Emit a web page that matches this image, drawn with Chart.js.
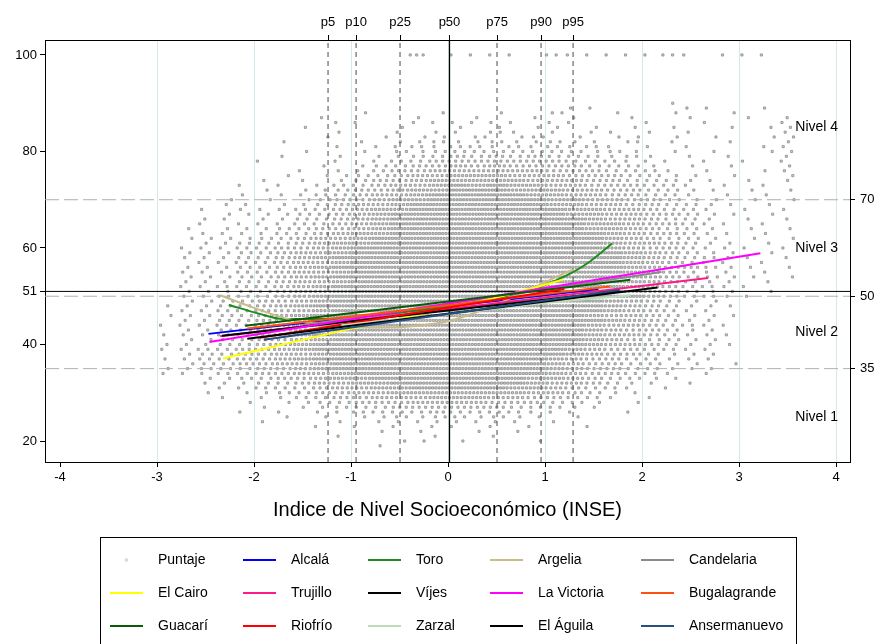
<!DOCTYPE html>
<html><head><meta charset="utf-8">
<script src="https://cdn.jsdelivr.net/npm/chart.js@4.4.1/dist/chart.umd.min.js"></script>
<style>html,body{margin:0;padding:0;background:#fff}canvas{display:block}</style>
</head><body>
<canvas id="c" width="880" height="644"></canvas>
<script>
// ---------- axes / reference values ----------
const xTicks = [-4, -3, -2, -1, 0, 1, 2, 3, 4];
const xRange = [-4.155, 4.144];
const yRange = [15.65, 103.1];
const yLeftTicks = [20, 40, 51, 60, 80, 100];
const yRightTicks = [35, 50, 70];
const pctLabels = ['p5', 'p10', 'p25', 'p50', 'p75', 'p90', 'p95'];
const pctValues = [-1.237, -0.948, -0.495, 0.015, 0.505, 0.959, 1.289];
const meanScore = 51;
const meanInse = 0.015;
const levelCuts = [70, 50, 35];
const levelNames = ['Nivel 4', 'Nivel 3', 'Nivel 2', 'Nivel 1'];
const levelLabelY = [85, 60, 42.5, 25];
const levelLabelX = 3.58;
const xTitle = 'Indice de Nivel Socioeconómico (INSE)';

// ---------- scatter "Puntaje": dots per 0.2-wide INSE bin (from -3.0), one row per score ----------
const binStart = -3.0, binWidth = 0.2;
const scoreRows = [100,90,89,88,87,86,85,84,83,82,81,80,79,78,77,76,75,74,73,72,71,70,69,68,67,66,65,64,63,62,61,60,
  59,58,57,56,55,54,53,52,51,50,49,48,47,46,45,44,43,42,41,40,39,38,37,36,35,34,33,32,31,30,29,28,27,26,25,24,23,22,21,20,19];
const densityRows = [
  "00000 00000 00030 11110 21111 12101 11000",
  "00000 00000 00000 00000 00000 01000 00000",
  "00000 00000 00000 00000 01100 00110 01000",
  "00000 00000 10001 00100 20010 01001 00000",
  "00000 00010 00010 01001 01001 00100 10100",
  "00000 00001 10011 11110 11000 10010 00100",
  "00000 00100 00100 10101 10101 01001 01100",
  "00000 00001 00101 10210 10110 10100 00100",
  "00000 00010 01011 02012 01011 01010 01100",
  "00000 01000 10112 11211 21102 01001 00100",
  "00000 00001 01121 22121 21210 10100 01100",
  "00000 00100 10212 22222 22121 01010 01100",
  "00000 01001 01122 32323 22212 10101 00100",
  "00000 10001 01223 33333 32221 11010 10100",
  "00000 00010 12233 43433 33222 10101 00100",
  "00000 00101 12334 44444 33322 21010 01100",
  "00000 01011 22344 55544 43332 21101 00100",
  "00000 10101 23345 55554 44332 22110 10100",
  "00001 01012 23445 65655 44333 22101 01000",
  "00000 10112 33455 66655 54433 22110 10100",
  "00001 01122 34456 66665 54433 22101 01000",
  "00010 10123 34556 66666 55443 32110 10100",
  "00011 01123 44566 66666 55443 32211 01000",
  "00101 11223 45566 66666 65544 32210 10100",
  "00011 11223 45666 66666 65544 33211 01000",
  "00110 11223 45666 66666 66544 32210 10100",
  "00101 11223 45666 66666 66554 33211 01000",
  "01011 12233 45666 66666 66554 32210 10100",
  "00111 12234 55666 66666 66654 33211 01000",
  "01111 22344 56666 66666 66654 32210 10100",
  "00112 22345 56666 66666 66654 43211 01000",
  "01112 23345 66666 66666 66654 33211 10100",
  "01112 23445 66666 66666 66665 43211 01000",
  "01112 23456 66666 66666 66665 43221 10100",
  "00112 23445 66666 66666 66665 43211 01000",
  "01112 23456 66666 66666 66665 43321 10100",
  "01112 23445 66666 66666 66665 43211 01000",
  "01112 23456 66666 66666 66665 43221 10100",
  "01112 23445 66666 66666 66665 43211 01000",
  "01122 23456 66666 66666 66665 43221 10000",
  "01112 23445 66666 66666 66665 43211 01000",
  "01122 23456 66666 66666 66666 43221 10000",
  "01122 33456 66666 66666 66654 32110 00000",
  "11122 34566 66666 66666 66654 32111 00000",
  "01122 33456 66666 66666 66654 32110 00000",
  "11122 34566 66666 66666 66544 32111 00000",
  "01122 33456 66666 66666 66654 32110 00000",
  "11122 34566 66666 66666 66544 32211 00000",
  "01122 33456 66666 66666 66543 32110 00000",
  "11122 34566 66666 66666 66544 32111 00000",
  "01122 33456 66666 66666 66543 22110 00000",
  "11122 34566 66666 66666 66544 32111 00000",
  "11223 34566 66666 66666 65433 22110 00000",
  "01223 34456 66666 66666 65433 21110 00000",
  "11223 34566 66666 66666 54332 21110 00000",
  "01223 34456 66666 66666 54332 21101 00000",
  "11222 33456 66666 66666 54332 21110 00000",
  "11122 33445 66666 66666 54332 21010 00000",
  "00112 23345 56666 66665 54322 11000 00000",
  "00111 22344 55666 66665 44321 10100 00000",
  "00011 22234 45566 66655 43221 01000 00000",
  "00101 12233 44555 55554 43211 00000 00000",
  "00010 11223 34445 55443 32210 10000 00000",
  "00001 01122 33344 44333 22101 00000 00000",
  "00000 10112 22333 33322 21100 00000 00000",
  "00001 01011 22223 22221 11001 00000 00000",
  "00000 01010 11212 21211 01000 00000 00000",
  "00000 10001 01111 11110 10000 00000 00000",
  "00000 00010 10101 10101 00100 00000 00000",
  "00000 00000 01010 01010 00000 00000 00000",
  "00000 00001 00001 00100 00000 00000 00000",
  "00000 00000 00110 10001 00000 00000 00000",
  "00000 00000 01000 00000 00000 00000 00000"
];

// ---------- fitted curves per municipality: [INSE, score] ----------
const alcala       = [[-2.47, 42.2], [1.55, 51.5]];
const toro         = [[-2.26, 48.2], [-1.95, 46.4], [-1.7, 45.3], [-1.3, 45.3], [-0.5, 46.6], [0, 47.9], [0.5, 49.6], [0.95, 52.0], [1.25, 54.6], [1.45, 57.0], [1.69, 60.9]];
const argelia      = [[-2.35, 50.2], [-2.0, 47.6], [-1.63, 45.2], [-1.2, 44.0], [-0.7, 43.5], [-0.3, 43.9], [0.0, 44.8], [0.36, 47.2], [0.8, 51.0], [1.18, 54.6], [1.3, 55.6]];
const candelaria   = [[-1.5, 44.0], [2.2, 55.0]];
const elCairo      = [[-2.32, 37.1], [-0.9, 43.7], [0.2, 48.3], [0.8, 51.3], [1.19, 53.5]];
const trujillo     = [[-2.35, 41.7], [2.68, 53.8]];
const vijes        = [[-2.33, 41.8], [1.75, 51.0]];
const laVictoria   = [[-2.46, 40.5], [3.22, 58.9]];
const bugalagrande = [[-2.07, 43.3], [1.67, 52.0]];
const guacari      = [[-2.09, 43.9], [1.88, 53.4]];
const riofrio      = [[-1.94, 41.4], [1.2, 51.5]];
const zarzal       = [[-1.1, 44.0], [0, 46.3], [1.0, 48.6], [1.88, 50.2]];
const elAguila     = [[-2.07, 41.2], [2.16, 51.8]];
const ansermanuevo = [[-1.9, 41.0], [1.77, 51.3]];

const seriesNames = ['Puntaje', 'Alcalá', 'Toro', 'Argelia', 'Candelaria', 'El Cairo', 'Trujillo', 'Víjes',
  'La Victoria', 'Bugalagrande', 'Guacarí', 'Riofrío', 'Zarzal', 'El Águila', 'Ansermanuevo'];
const curveData = [alcala, toro, argelia, candelaria, elCairo, trujillo, vijes, laVictoria, bugalagrande, guacari, riofrio, zarzal, elAguila, ansermanuevo];
const curveColors = ['#0000ff', '#1e8c1e', '#c8bb8c', '#8a8a8a', '#ffff00', '#ff1a8c', '#000000', '#ff00ff',
  '#ff5010', '#0a5a0a', '#ff0000', '#bcdcbc', '#000000', '#26507f'];
const curvedSeries = ['Toro', 'Argelia', 'El Cairo', 'Zarzal'];

// ---------- build datasets ----------
const scatterPts = [];
scoreRows.forEach((s, r) => {
  const row = densityRows[r].replace(/ /g, '');
  const phase = (r * 0.618) % 1;            // staggers dots between rows inside each bin
  for (let b = 0; b < row.length; b++) {
    const n = +row[b];
    for (let k = 0; k < n; k++) {
      scatterPts.push({ x: binStart + b * binWidth + binWidth * (k + 0.15 + 0.7 * phase) / n, y: s });
    }
  }
});

const datasets = [];
datasets.push({
  label: 'Puntaje', data: scatterPts, showLine: false, pointStyle: 'rect',
  pointRadius: 1.5, borderWidth: 0.8, borderColor: '#8c8c8c', backgroundColor: 'rgba(150,150,150,0.45)', order: 100
});
const toXY = a => a.map(p => ({ x: p[0], y: p[1] }));
levelCuts.forEach(v => datasets.push({
  label: '_cut' + v, data: [{ x: xRange[0], y: v }, { x: xRange[1], y: v }], showLine: true, pointRadius: 0,
  borderColor: '#aab3b3', borderWidth: 1, borderDash: [14, 5], order: 60
}));
pctValues.forEach((v, i) => { if (pctLabels[i] !== 'p50') datasets.push({
  label: '_pct' + i, data: [{ x: v, y: yRange[0] }, { x: v, y: yRange[1] }], showLine: true, pointRadius: 0,
  borderColor: '#4a4a4a', borderWidth: 1, borderDash: [5, 4], order: 55
}); });
datasets.push({ label: '_meanY', data: [{ x: xRange[0], y: meanScore }, { x: xRange[1], y: meanScore }], showLine: true, pointRadius: 0, borderColor: '#000', borderWidth: 1, order: 50 });
datasets.push({ label: '_meanX', data: [{ x: meanInse, y: yRange[0] }, { x: meanInse, y: yRange[1] }], showLine: true, pointRadius: 0, borderColor: '#000', borderWidth: 1.3, order: 50 });
curveData.forEach((d, i) => {
  const name = seriesNames[i + 1];
  datasets.push({
    label: name, data: toXY(d), showLine: true, pointRadius: 0, borderColor: curveColors[i],
    borderWidth: 2, tension: curvedSeries.includes(name) ? 0.4 : 0, cubicInterpolationMode: 'monotone',
    order: 20 - i
  });
});

Chart.defaults.font.family = '"Liberation Sans", Arial, sans-serif';
Chart.defaults.color = '#000';

const fixedSize = (prop, val) => (scale) => { scale[prop] = val; };

const overlayPlugin = {
  id: 'overlay',
  afterDatasetsDraw(chart) {
    const ctx = chart.ctx, xs = chart.scales.x, ys = chart.scales.y;
    ctx.save();
    ctx.font = '14px "Liberation Sans", Arial, sans-serif';
    ctx.fillStyle = '#000'; ctx.textBaseline = 'middle'; ctx.textAlign = 'left';
    levelNames.forEach((t, i) => ctx.fillText(t, xs.getPixelForValue(levelLabelX), ys.getPixelForValue(levelLabelY[i])));
    ctx.restore();
  },
  afterDraw(chart) {
    const ctx = chart.ctx;
    ctx.save();
    ctx.strokeStyle = '#000'; ctx.lineWidth = 1;
    ctx.strokeRect(100.5, 537.5, 696, 140);
    const colSym = [110, 243, 368, 490, 641], colTxt = [158, 291, 416, 538, 689], rowY = [560, 593, 626];
    ctx.font = '14px "Liberation Sans", Arial, sans-serif';
    ctx.textBaseline = 'middle'; ctx.textAlign = 'left';
    seriesNames.forEach((name, i) => {
      const r = Math.floor(i / 5), c = i % 5, y = rowY[r];
      const ds = chart.data.datasets.find(d => d.label === name);
      if (name === 'Puntaje') {
        ctx.strokeStyle = '#b0b0b0'; ctx.lineWidth = 0.7;
        ctx.beginPath(); ctx.arc(colSym[c] + 16.5, y, 1.3, 0, Math.PI * 2); ctx.stroke();
      } else {
        ctx.strokeStyle = ds.borderColor; ctx.lineWidth = 2;
        ctx.beginPath(); ctx.moveTo(colSym[c], y); ctx.lineTo(colSym[c] + 33, y); ctx.stroke();
      }
      ctx.fillStyle = '#000';
      ctx.fillText(name, colTxt[c], y);
    });
    ctx.restore();
  }
};

new Chart(document.getElementById('c'), {
  type: 'scatter',
  data: { datasets },
  options: {
    responsive: false, animation: false, devicePixelRatio: 1, events: [],
    layout: { padding: 0 },
    plugins: { legend: { display: false }, tooltip: { enabled: false } },
    scales: {
      x: {
        type: 'linear', position: 'bottom', min: xRange[0], max: xRange[1],
        afterBuildTicks: s => { s.ticks = xTicks.map(v => ({ value: v })); },
        afterFit: fixedSize('height', 182),
        ticks: { font: { size: 13 }, padding: 3, maxRotation: 0, autoSkip: false, callback: v => String(v) },
        grid: { drawOnChartArea: true, color: c => (c.tick && c.tick.value === -4) ? 'rgba(0,0,0,0)' : '#d8e7ec', lineWidth: 1, tickColor: '#000', tickLength: 5, tickWidth: 1 },
        border: { display: true, color: '#000', width: 1 },
        title: { display: true, text: xTitle, font: { size: 20 }, padding: { top: 4, bottom: 122 } }
      },
      x2: {
        type: 'linear', position: 'top', min: xRange[0], max: xRange[1],
        afterBuildTicks: s => { s.ticks = pctValues.map(v => ({ value: v })); },
        afterFit: fixedSize('height', 40),
        ticks: { font: { size: 13 }, padding: 5, maxRotation: 0, autoSkip: false, callback: (v, i) => pctLabels[i] },
        grid: { drawOnChartArea: false, tickColor: '#000', tickLength: 5, tickWidth: 1 },
        border: { display: true, color: '#000', width: 1 }
      },
      y: {
        type: 'linear', position: 'left', min: yRange[0], max: yRange[1],
        afterBuildTicks: s => { s.ticks = yLeftTicks.map(v => ({ value: v })); },
        afterFit: fixedSize('width', 45),
        ticks: { font: { size: 13 }, padding: 3, autoSkip: false, callback: v => String(v) },
        grid: { drawOnChartArea: false, tickColor: '#000', tickLength: 5, tickWidth: 1 },
        border: { display: true, color: '#000', width: 1 }
      },
      y2: {
        type: 'linear', position: 'right', min: yRange[0], max: yRange[1],
        afterBuildTicks: s => { s.ticks = yRightTicks.map(v => ({ value: v })); },
        afterFit: fixedSize('width', 30),
        ticks: { font: { size: 13 }, padding: 5, autoSkip: false, callback: v => String(v) },
        grid: { drawOnChartArea: false, tickColor: '#000', tickLength: 5, tickWidth: 1 },
        border: { display: true, color: '#000', width: 1 }
      }
    }
  },
  plugins: [overlayPlugin]
});
</script>
</body></html>
